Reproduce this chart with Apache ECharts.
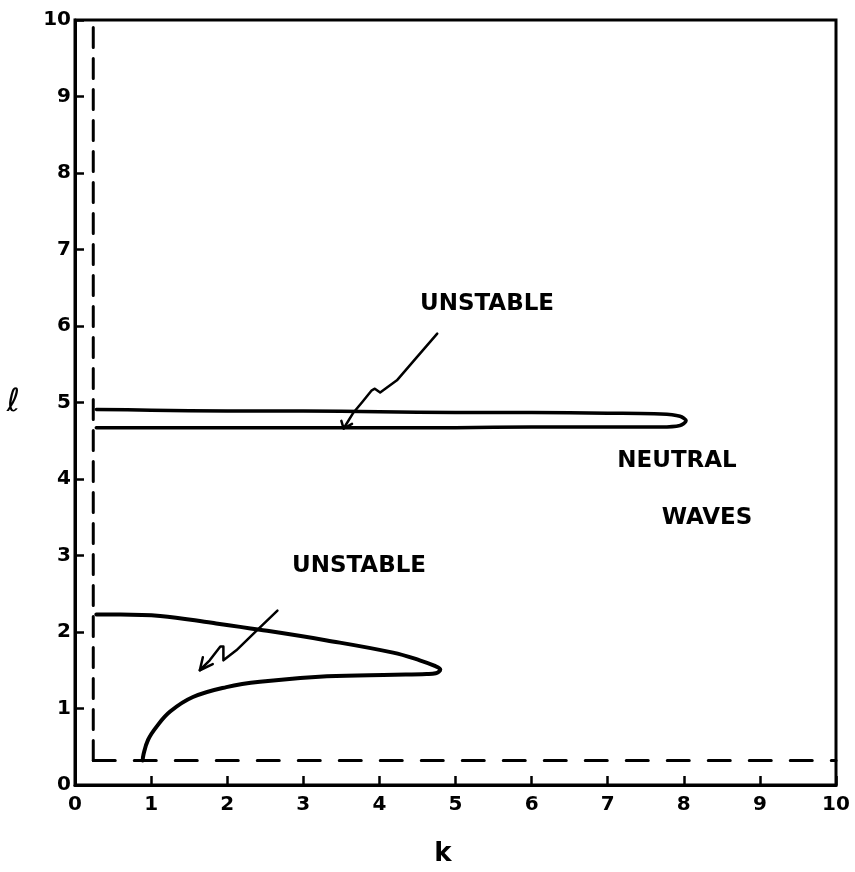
<!DOCTYPE html>
<html>
<head>
<meta charset="utf-8">
<script src="https://cdn.jsdelivr.net/npm/echarts@6/dist/echarts.min.js"></script>
<style>
html,body{margin:0;padding:0;background:#fff;}
#chart{width:855px;height:872px;}
</style>
</head>
<body>
<div id="chart"></div>
<script>
// axis ticks
var xTicks = [0,1,2,3,4,5,6,7,8,9,10];
var yTicks = [0,1,2,3,4,5,6,7,8,9,10];

// dashed boundary lines (k, l)
var dashVertical = [[0.24, 0.32], [0.24, 10]];
var dashHorizontal = [[0.24, 0.32], [10, 0.32]];

// upper unstable region (thin tongue near l ~ 4.8)
var upperCurve = [
  [0.28,4.91],[1,4.90],[2,4.89],[3,4.89],[4,4.88],[5,4.87],[6,4.87],[7,4.86],
  [7.7,4.85],[7.95,4.82],[8.03,4.76],[7.95,4.70],[7.7,4.68],[7,4.68],[6,4.68],
  [5,4.67],[4,4.67],[3,4.67],[2,4.67],[1,4.67],[0.28,4.67]
];

// lower unstable region
var lowerCurve = [
  [0.28,2.23],[0.6,2.23],[1.12,2.21],[1.8,2.12],[2.43,2.03],[3.31,1.89],
  [4.18,1.73],[4.53,1.63],[4.72,1.56],[4.80,1.51],[4.74,1.46],[4.62,1.45],
  [4.2,1.44],[3.31,1.42],[2.43,1.35],[1.99,1.28],[1.55,1.15],[1.25,0.96],
  [1.07,0.76],[0.96,0.59],[0.90,0.40],[0.89,0.32]
];

// annotation arrows
var upperArrow = [
  [4.76,5.90],[4.49,5.59],[4.23,5.29],[4.01,5.13],[3.94,5.18],[3.90,5.16],
  [3.77,5.00],[3.66,4.87],[3.53,4.66]
];
var upperArrowHead = [[3.50,4.76],[3.53,4.66],[3.64,4.72]];
var lowerArrow = [
  [2.66,2.28],[2.39,2.02],[2.12,1.76],[1.95,1.63],[1.95,1.81],[1.91,1.81],
  [1.77,1.63],[1.64,1.50]
];
var lowerArrowHead = [[1.68,1.67],[1.64,1.50],[1.81,1.58]];

// labels
var xName = 'k';
var yName = 'ℓ';
var annotations = [
  {text:'UNSTABLE', px:487, py:304},
  {text:'NEUTRAL', px:677, py:461},
  {text:'WAVES', px:707, py:518},
  {text:'UNSTABLE', px:359, py:566}
];

var FONT = 'DejaVu Sans';
var chart = echarts.init(document.getElementById('chart'), null, {renderer:'canvas'});

function lineSeries(data, width, dash, smooth) {
  return {
    type:'line', data:data, symbol:'none', smooth:smooth || false,
    lineStyle:{color:'#000', width:width, type: dash || 'solid', cap:'round', join:'round'},
    silent:true, animation:false, z:3
  };
}

var option = {
  backgroundColor:'#fff',
  animation:false,
  grid:{left:75, right:19, top:20, bottom:87, show:true, borderColor:'#000', borderWidth:3, backgroundColor:'transparent'},
  xAxis:{
    type:'value', min:xTicks[0], max:xTicks[xTicks.length-1], interval:1,
    name:xName, nameLocation:'middle', nameGap:56,
    nameTextStyle:{fontFamily:FONT, fontWeight:'bold', fontSize:26, color:'#000', padding:[0,25,0,0]},
    axisLine:{show:true, lineStyle:{color:'#000', width:3}},
    axisTick:{show:true, inside:true, length:9, lineStyle:{color:'#000', width:2.5}},
    axisLabel:{show:true, margin:10, fontFamily:FONT, fontWeight:'bold', fontSize:20, color:'#000', showMinLabel:true, showMaxLabel:true},
    splitLine:{show:false}
  },
  yAxis:{
    type:'value', min:yTicks[0], max:yTicks[yTicks.length-1], interval:1,
    name:yName, nameLocation:'middle', nameGap:55, nameRotate:0,
    nameTextStyle:{fontFamily:FONT, fontSize:32, color:'#000', padding:[0,0,30,0]},
    axisLine:{show:true, lineStyle:{color:'#000', width:3}},
    axisTick:{show:true, inside:true, length:9, lineStyle:{color:'#000', width:2.5}},
    axisLabel:{show:true, margin:4, fontFamily:FONT, fontWeight:'bold', fontSize:20, color:'#000', showMinLabel:true, showMaxLabel:true},
    splitLine:{show:false}
  },
  series:[
    lineSeries(dashVertical, 3, [20,11]),
    lineSeries(dashHorizontal, 3, [22,19]),
    lineSeries(upperCurve, 3.5, 'solid', 0.3),
    lineSeries(lowerCurve, 4, 'solid', 0.4),
    lineSeries(upperArrow, 2.5, 'solid', false),
    lineSeries(upperArrowHead, 2.5, 'solid', false),
    lineSeries(lowerArrow, 2.5, 'solid', false),
    lineSeries(lowerArrowHead, 2.5, 'solid', false)
  ],
  graphic: annotations.map(function(a){
    return {
      type:'text', x:a.px, y:a.py, z:10,
      style:{text:a.text, align:'center', verticalAlign:'middle', fill:'#000',
             font:'bold 23px "' + FONT + '"'}
    };
  })
};
chart.setOption(option);
</script>
</body>
</html>
